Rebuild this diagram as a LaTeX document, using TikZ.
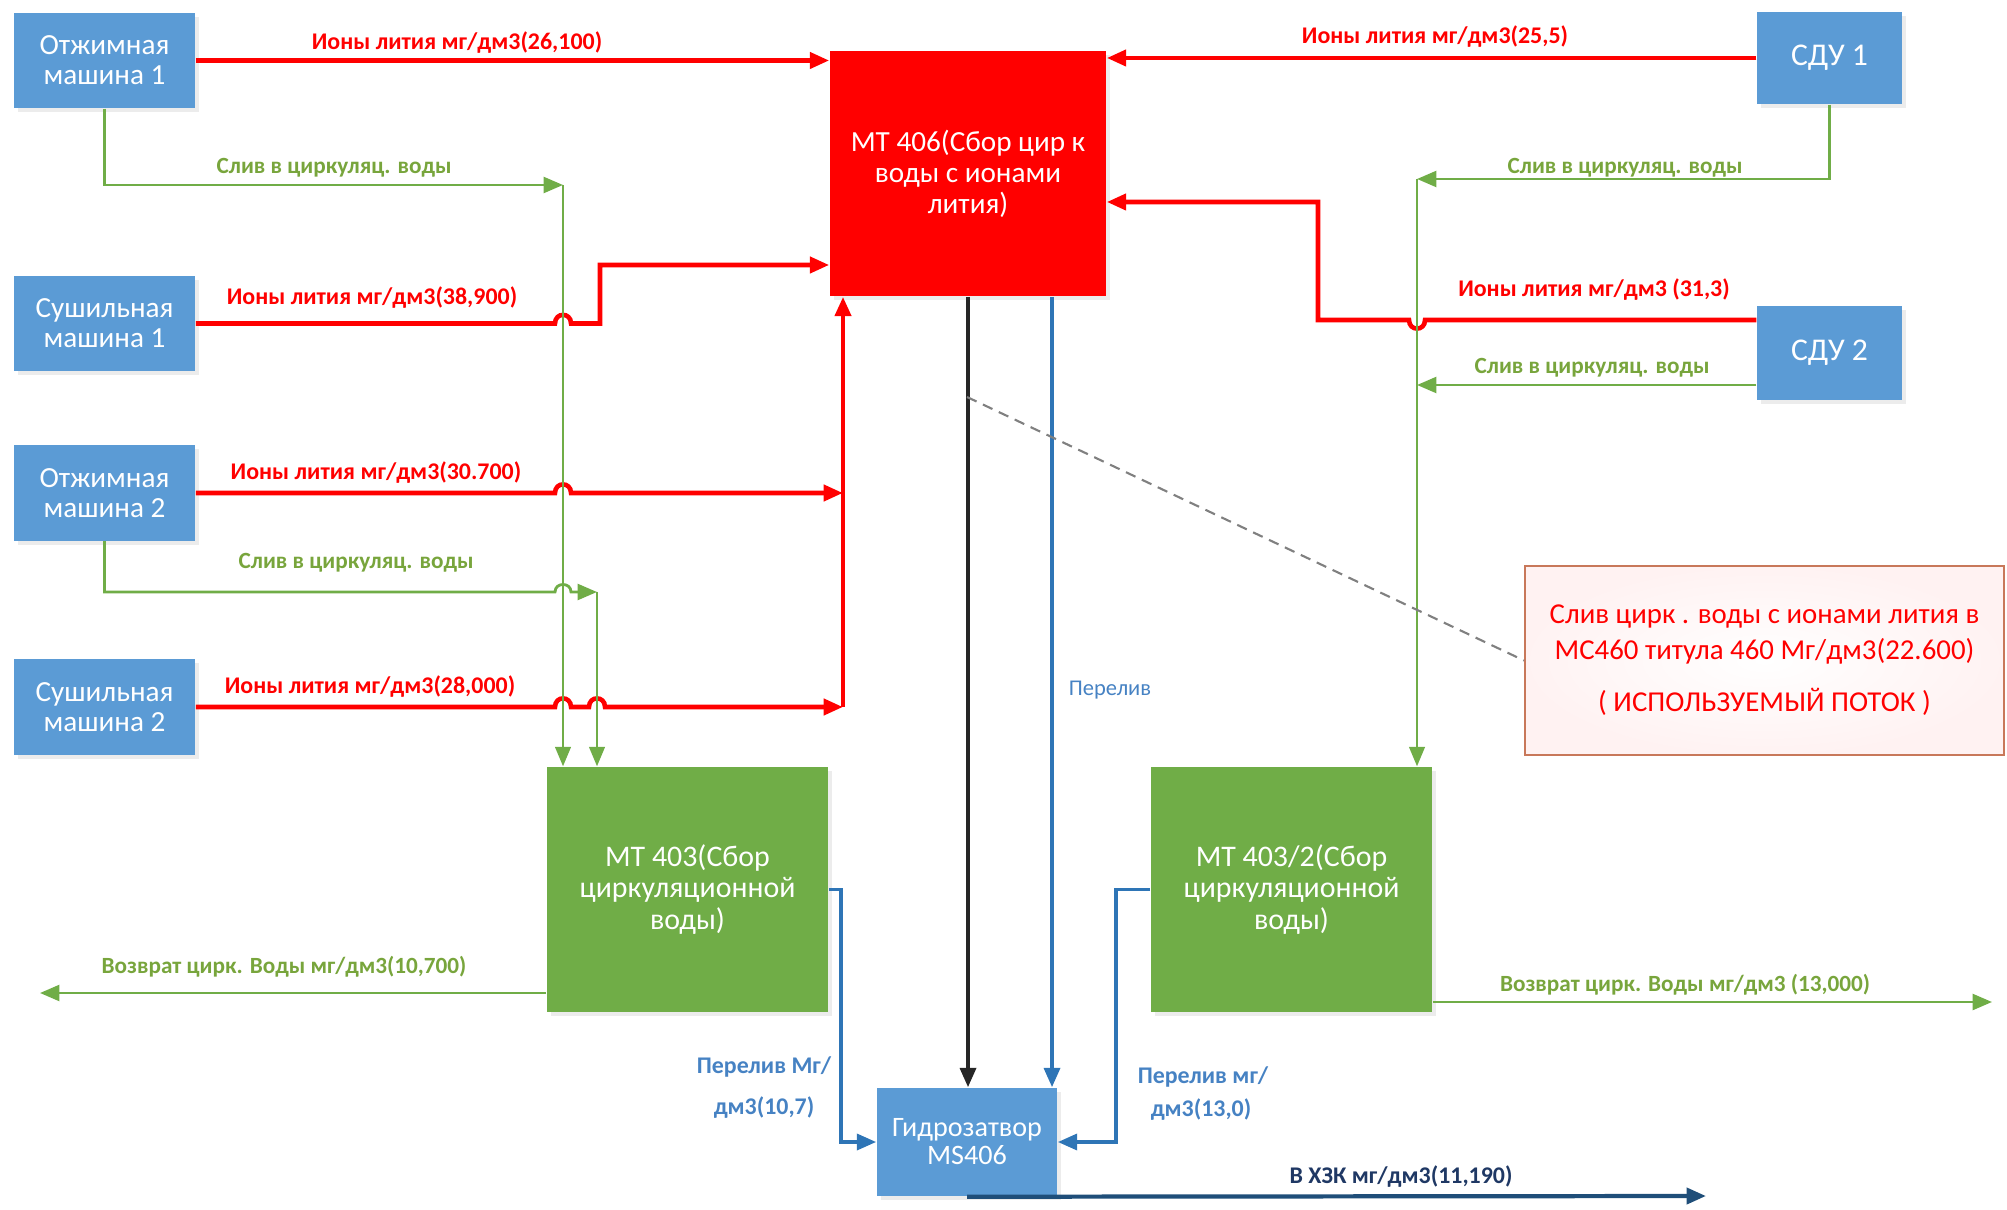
\documentclass[tikz,border=0pt]{standalone}
\usepackage{fontspec}
\setmainfont{Carlito}
\usetikzlibrary{shadows}
\usetikzlibrary{arrows.meta}
\usetikzlibrary{calc,positioning}

\definecolor{boxblue}{RGB}{91,155,213}
\definecolor{boxgreen}{RGB}{112,173,71}
\definecolor{lnred}{RGB}{255,0,0}
\definecolor{lngreen}{RGB}{112,173,71}
\definecolor{txgreen}{RGB}{120,165,60}
\definecolor{lnblue}{RGB}{46,117,182}
\definecolor{txblue}{RGB}{70,130,195}
\definecolor{lnnavy}{RGB}{31,78,121}
\definecolor{txnavy}{RGB}{31,56,100}
\definecolor{notebrd}{RGB}{200,120,90}

\begin{document}
\begin{tikzpicture}[x=0.01cm, y=-0.01cm,
    >={Triangle[length=5.5pt,width=4.5pt]},
    shadowed/.style={drop shadow={opacity=0.15, shadow xshift=0.04cm, shadow yshift=-0.04cm}},
    mbox/.style={shadowed, fill=boxblue, text=white, align=center, inner sep=0pt,
        font=\fontsize{8.3}{8.5}\selectfont, minimum width=1.81cm, minimum height=0.95cm},
    redbox/.style={shadowed, fill=lnred, text=white, align=center, inner sep=0pt,
        font=\fontsize{8.3}{8.8}\selectfont, minimum width=2.76cm, minimum height=2.45cm},
    gbox/.style={shadowed, fill=boxgreen, text=white, align=center, inner sep=0pt,
        font=\fontsize{8.5}{9}\selectfont, minimum width=2.81cm, minimum height=2.45cm},
    notebox/.style={draw=notebrd, line width=0.5pt, inner color=white, outer color=red!5,
        text=lnred, align=center, inner sep=0pt, font=\fontsize{8.2}{10}\selectfont,
        minimum width=4.79cm, minimum height=1.89cm},
    redln/.style={draw=lnred, line width=1.3pt},
    grnln/.style={draw=lngreen, line width=0.8pt},
    grnthin/.style={draw=lngreen, line width=0.45pt},
    bluln/.style={draw=lnblue, line width=1.1pt},
    blkln/.style={draw=black!85, line width=1.1pt},
    navyln/.style={draw=lnnavy, line width=1.2pt},
    redlbl/.style={text=lnred, inner sep=0pt, font=\bfseries\fontsize{6.8}{7}\selectfont},
    grnlbl/.style={text=txgreen, inner sep=0pt, font=\bfseries\fontsize{6.6}{7}\selectfont},
    blulbl/.style={text=txblue, inner sep=0pt, font=\bfseries\fontsize{6.8}{7}\selectfont},
]
    \useasboundingbox (0,0) rectangle (2007,1210);

    % установки
    \node[mbox] (om1) at (104.5,60.5) {Отжимная\\машина 1};
    \node[mbox] (sm1) at (104.5,323.5) {Сушильная\\машина 1};
    \node[mbox] (om2) at (104.5,493) {Отжимная\\машина 2};
    \node[mbox] (sm2) at (104.5,707) {Сушильная\\машина 2};
    \node[mbox, minimum width=1.45cm, minimum height=0.92cm, font=\fontsize{9}{9}\selectfont] (sdu1) at (1829.5,58) {СДУ 1};
    \node[mbox, minimum width=1.45cm, minimum height=0.94cm, font=\fontsize{9}{9}\selectfont] (sdu2) at (1829.5,353) {СДУ 2};

    % ёмкости
    \node[redbox] (mt406) at (968,173.5) {МТ 406(Сбор цир к\\воды с ионами\\лития)};
    \node[gbox] (mt403) at (687.5,889.5) {МТ 403(Сбор\\циркуляционной\\воды)};
    \node[gbox] (mt4032) at (1291.5,889.5) {МТ 403/2(Сбор\\циркуляционной\\воды)};
    \node[mbox, minimum width=1.80cm, minimum height=1.08cm, font=\fontsize{8}{8}\selectfont] (gidro) at (967,1142) {Гидрозатвор\\MS406};

    % точки
    \coordinate (rv) at (843,707);
    \coordinate (g1) at (563,185);
    \coordinate (g2) at (597,592);
    \coordinate (g3) at (1417,179);
    \coordinate (out1) at (40,993);
    \coordinate (out2) at (1992,1002);
    \coordinate (hzk) at (1706,1196);
    \coordinate (cp) at (967,397);

    % ионы лития в МТ 406
    \draw[redln, ->] (om1.east) -- (om1.east -| mt406.west);
    \draw[redln, ->] (sm1.east) -- (555,323.5) .. controls (555,312) and (571,312) .. (571,323.5)
        -- (600,323.5) -- (600,265) -- (mt406.west |- 0,265);
    \draw[redln, ->] (om2.east) -- (555,493) .. controls (555,481.5) and (571,481.5) .. (571,493)
        -- (rv |- om2.east);
    \draw[redln, ->] (sm2.east) -- (555,707) .. controls (555,695.5) and (571,695.5) .. (571,707)
        -- (589,707) .. controls (589,695.5) and (605,695.5) .. (605,707) -- (rv);
    \draw[redln, ->] (rv) -- (rv |- mt406.south);
    \draw[redln, ->] (sdu1.west) -- (sdu1.west -| mt406.east);
    \draw[redln, ->] (sdu2.west |- 0,320) -- (1425,320) .. controls (1425,331.5) and (1409,331.5) .. (1409,320)
        -- (1318,320) -- (1318,202) -- (mt406.east |- 0,202);

    % слив в циркуляционную воду
    \draw[grnln, ->] (om1.south) |- (g1);
    \draw[grnthin, ->] (g1) -- (g1 |- mt403.north);
    \draw[grnln, ->] (om2.south) |- (555,592) .. controls (555,582) and (571,582) .. (571,592) -- (g2);
    \draw[grnthin, ->] (g2) -- (g2 |- mt403.north);
    \draw[grnln, ->] (sdu1.south) |- (g3);
    \draw[grnthin, ->] (g3) -- (g3 |- mt4032.north);
    \draw[grnln, ->] (sdu2.west |- 0,385) -- (g3 |- 0,385);

    % перелив и выход
    \draw[blkln, ->] (mt406.south) -- (mt406.south |- gidro.north);
    \draw[bluln, ->] (mt406.south -| 1052,0) -- (gidro.north -| 1052,0);
    \draw[bluln, ->] (mt403.east) -- ++(12,0) |- (gidro.west);
    \draw[bluln, ->] (mt4032.west) -- ++(-34,0) |- (gidro.east);
    \draw[grnln, ->] (mt403.west |- out1) -- (out1);
    \draw[grnln, ->] (mt4032.east |- out2) -- (out2);
    \draw[navyln, ->] (gidro.south) -- (hzk);

    % выноска
    \node[notebox] (note) at (1764.5,660.5) {Слив цирк . воды с ионами лития в\\МС460 титула 460 Мг/дм3(22.600)\\[5pt]( ИСПОЛЬЗУЕМЫЙ ПОТОК )};
    \draw[gray, densely dashed, line width=0.6pt] (cp) -- (note.west);

    % подписи
    \node[redlbl] (l1) at (457,43) {Ионы лития мг/дм3(26,100)};
    \node[redlbl] (l2) at (372,298) {Ионы лития мг/дм3(38,900)};
    \node[redlbl] (l3) at (376,473) {Ионы лития мг/дм3(30.700)};
    \node[redlbl] (l4) at (370,687) {Ионы лития мг/дм3(28,000)};
    \node[redlbl] (l5) at (1435,37) {Ионы лития мг/дм3(25,5)};
    \node[redlbl] (l6) at (1594,290) {Ионы лития мг/дм3 (31,3)};
    \node[grnlbl] (s1) at (334,168) {Слив в циркуляц. воды};
    \node[grnlbl] (s2) at (356,563) {Слив в циркуляц. воды};
    \node[grnlbl] (s3) at (1625,168) {Слив в циркуляц. воды};
    \node[grnlbl] (s4) at (1592,368) {Слив в циркуляц. воды};
    \node[grnlbl] (v1) at (284,967) {Возврат цирк. Воды мг/дм3(10,700)};
    \node[grnlbl] (v2) at (1685,985) {Возврат цирк. Воды мг/дм3 (13,000)};
    \node[blulbl, font=\fontsize{6.4}{7}\selectfont] (p0) at (1110,690) {Перелив};
    \node[blulbl] (p1) at (764,1067) {Перелив Мг/};
    \node[blulbl] (p2) at (764,1108) {дм3(10,7)};
    \node[blulbl] (p3) at (1203,1077) {Перелив мг/};
    \node[blulbl] (p4) at (1201,1110) {дм3(13,0)};
    \node[redlbl, text=txnavy] (b1) at (1401,1177) {В ХЗК мг/дм3(11,190)};

\end{tikzpicture}
\end{document}
